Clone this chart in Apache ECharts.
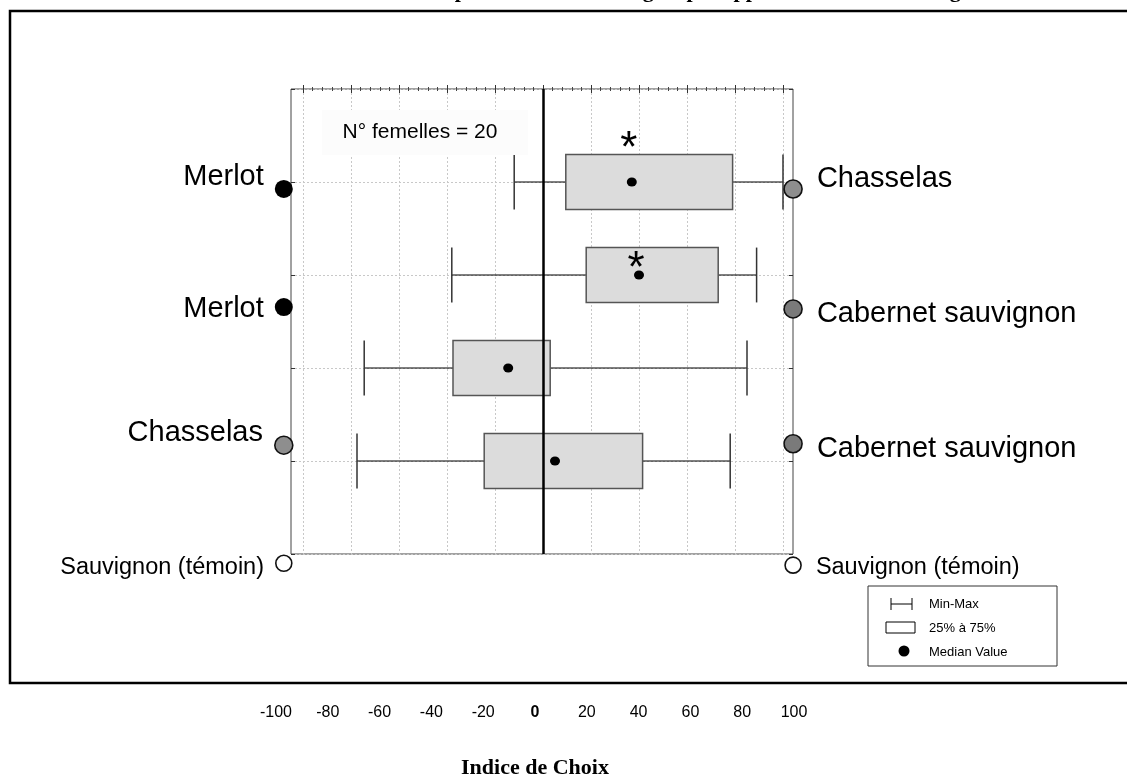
<!DOCTYPE html>
<html>
<head>
<meta charset="utf-8">
<title>Indice de Choix</title>
<script src="https://cdn.jsdelivr.net/npm/echarts@6.0.0/dist/echarts.min.js"></script>
<style>
  html, body { margin: 0; padding: 0; background: #ffffff; }
  #chart { width: 1127px; height: 780px; }
</style>
</head>
<body>
<div id="chart"></div>
<script>
// ---- Data ---------------------------------------------------------------
// One row per tested pair (top to bottom), choice index from -100 to 100.
const rows = [1, 2, 3, 4];
const minVals = [-12, -38, -74.5, -77.5];
const q1Vals = [9.5, 18, -37.5, -24.5];
const medianVals = [37, 40, -14.5, 5];
const q3Vals = [79, 73, 3, 41.5];
const maxVals = [100, 89, 85, 78];
const significant = [true, true, false, false];

// Varieties offered on each side of the choice device.
const leftVarieties = ['Merlot', 'Merlot', 'Chasselas', 'Sauvignon (témoin)'];
const rightVarieties = ['Chasselas', 'Cabernet sauvignon', 'Cabernet sauvignon', 'Sauvignon (témoin)'];

const tickLabels = [-100, -80, -60, -40, -20, 0, 20, 40, 60, 80, 100];
const femaleCount = 20;

const titleText = 'Choix de ponte des femelles : groupes appariés et témoin en cage';
const axisTitle = 'Indice de Choix';
const legendLabels = ['Min-Max', '25% à 75%', 'Median Value'];

// ---- Styling / layout -----------------------------------------------------
const SANS = '"Liberation Sans", Arial, Helvetica, sans-serif';
const SERIF = '"Liberation Serif", "Times New Roman", serif';

const varietyColor = {
  'Merlot': '#000000',
  'Chasselas': '#8e8e8e',
  'Cabernet sauvignon': '#7a7a7a',
  'Sauvignon (témoin)': '#ffffff'
};

// Where the variety markers sit, in axis units (rows / choice index).
const markerLayout = {
  leftX: -108,
  rightX: 104.2,
  leftRows: [1.075, 2.345, 3.83, 5.1],
  rightRows: [1.075, 2.365, 3.815, 5.12],
  leftShift: [-12, 2, -12, 4],
  rightShift: [-10, 5, 5, 2]
};
const asteriskLift = [44, 17, 0, 0];

const chart = echarts.init(document.getElementById('chart'), null, { renderer: 'canvas' });

const boxData = rows.map((r, i) => [r, minVals[i], q1Vals[i], medianVals[i], q3Vals[i], maxVals[i]]);
const medianData = rows.map((r, i) => [medianVals[i], r]);

function renderBox(params, api) {
  const row = api.value(0);
  const pMin = api.coord([api.value(1), row]);
  const pQ1 = api.coord([api.value(2), row]);
  const pQ3 = api.coord([api.value(4), row]);
  const pMax = api.coord([api.value(5), row]);
  const h = api.size([0, 1])[1] * 0.59;
  const y = pMin[1];
  const whisker = { stroke: '#000', lineWidth: 1.2 };
  const cap = { stroke: '#333', lineWidth: 1.5 };
  return {
    type: 'group',
    children: [
      { type: 'line', shape: { x1: pMin[0], y1: y, x2: pQ1[0], y2: y }, style: whisker },
      { type: 'line', shape: { x1: pQ3[0], y1: y, x2: pMax[0], y2: y }, style: whisker },
      { type: 'line', shape: { x1: pMin[0], y1: y - h / 2, x2: pMin[0], y2: y + h / 2 }, style: cap },
      { type: 'line', shape: { x1: pMax[0], y1: y - h / 2, x2: pMax[0], y2: y + h / 2 }, style: cap },
      {
        type: 'rect',
        shape: { x: pQ1[0], y: y - h / 2, width: pQ3[0] - pQ1[0], height: h },
        style: { fill: '#dcdcdc', stroke: '#555', lineWidth: 1.5 }
      }
    ]
  };
}

function renderAsterisk(params, api) {
  const i = params.dataIndex;
  if (!significant[i]) return null;
  const p = api.coord([api.value(0), api.value(1)]);
  return {
    type: 'text',
    x: p[0] - 3,
    y: p[1] - asteriskLift[i] + 12,
    style: {
      text: '*', fontSize: 44, fontFamily: SANS, fill: '#000',
      align: 'center', verticalAlign: 'middle'
    }
  };
}

function markerItems(names, x, ys, shifts, side) {
  return names.map((name, i) => {
    const isControl = name === 'Sauvignon (témoin)';
    return {
      value: [x, ys[i]],
      name: name,
      symbolSize: isControl ? 16 : 18,
      itemStyle: {
        color: varietyColor[name],
        opacity: 1,
        borderColor: '#111',
        borderWidth: name === 'Merlot' ? 0 : 1.6
      },
      label: {
        show: true,
        position: side,
        distance: side === 'left' ? 11 : 14,
        offset: [0, shifts[i]],
        formatter: name,
        fontFamily: SANS,
        fontSize: isControl ? 23.5 : 29,
        color: '#000',
        opacity: 1
      }
    };
  });
}

const tickAxis = {
  type: 'value', min: -100, max: 100, interval: 20,
  axisLine: { show: false },
  axisTick: { show: true, inside: true, length: 4, lineStyle: { color: '#333', width: 1 } },
  minorTick: { show: true, splitNumber: 5, length: 2, lineStyle: { color: '#444', width: 1 } },
  axisLabel: { show: false }
};

const option = {
  backgroundColor: '#ffffff',
  animation: false,
  grid: [
    { left: 291, right: 334, top: 89, bottom: 226, show: true, borderColor: '#444', borderWidth: 1, backgroundColor: '#ffffff' },
    { left: 303, right: 344, top: 89, bottom: 226 },
    { left: 276, right: 333, top: 690, height: 10 }
  ],
  xAxis: [
    { gridIndex: 0, type: 'value', min: 0, max: 1, show: false },
    Object.assign({ gridIndex: 1, position: 'bottom',
      splitLine: { show: true, lineStyle: { type: [2, 2], color: '#c8c8c8', width: 1 } } }, tickAxis),
    Object.assign({ gridIndex: 1, position: 'top', splitLine: { show: false } }, tickAxis),
    {
      gridIndex: 2, type: 'value', min: tickLabels[0], max: tickLabels[tickLabels.length - 1], interval: 20,
      axisLine: { show: false }, axisTick: { show: false }, splitLine: { show: false },
      axisLabel: {
        margin: 8, fontFamily: SANS, fontSize: 16, color: '#000',
        formatter: v => (v === 0 ? '{z|0}' : String(v)),
        rich: { z: { fontFamily: SANS, fontSize: 16, fontWeight: 'bold', color: '#000' } }
      },
      name: axisTitle, nameLocation: 'middle', nameGap: 60,
      nameTextStyle: { fontFamily: SERIF, fontWeight: 'bold', fontSize: 22, color: '#000' }
    }
  ],
  yAxis: [
    {
      gridIndex: 0, type: 'value', min: 0, max: 5, interval: 1, inverse: true, position: 'left',
      axisLine: { show: false }, axisLabel: { show: false },
      axisTick: { show: true, inside: true, length: 4, lineStyle: { color: '#333' } },
      splitLine: { show: true, lineStyle: { type: [2, 2], color: '#c8c8c8', width: 1 } }
    },
    {
      gridIndex: 0, type: 'value', min: 0, max: 5, interval: 1, inverse: true, position: 'right',
      axisLine: { show: false }, axisLabel: { show: false },
      axisTick: { show: true, inside: true, length: 4, lineStyle: { color: '#333' } },
      splitLine: { show: false }
    },
    { gridIndex: 1, type: 'value', min: 0, max: 5, inverse: true, show: false },
    { gridIndex: 2, type: 'value', show: false }
  ],
  series: [
    {
      name: 'boxes', type: 'custom', xAxisIndex: 1, yAxisIndex: 2, z: 2,
      renderItem: renderBox, data: boxData,
      encode: { x: [1, 2, 3, 4, 5], y: 0 }
    },
    {
      name: 'median', type: 'scatter', xAxisIndex: 1, yAxisIndex: 2, z: 4,
      symbol: 'circle', symbolSize: [10, 9],
      itemStyle: { color: '#000', opacity: 1 },
      data: medianData,
      markLine: {
        silent: true, symbol: 'none', label: { show: false },
        lineStyle: { color: '#000', width: 2.5, type: 'solid', opacity: 1 },
        data: [{ xAxis: 0 }]
      }
    },
    {
      name: 'significance', type: 'custom', xAxisIndex: 1, yAxisIndex: 2, z: 5,
      renderItem: renderAsterisk, data: medianData,
      encode: { x: 0, y: 1 }
    },
    {
      name: 'left varieties', type: 'scatter', xAxisIndex: 1, yAxisIndex: 2, z: 6, clip: false,
      symbol: 'circle',
      data: markerItems(leftVarieties, markerLayout.leftX, markerLayout.leftRows, markerLayout.leftShift, 'left')
    },
    {
      name: 'right varieties', type: 'scatter', xAxisIndex: 1, yAxisIndex: 2, z: 6, clip: false,
      symbol: 'circle',
      data: markerItems(rightVarieties, markerLayout.rightX, markerLayout.rightRows, markerLayout.rightShift, 'right')
    }
  ],
  graphic: [
    // heading, sitting against the top edge of the page
    {
      type: 'text', z: 1, silent: true, x: 668, y: -20,
      style: { text: titleText, fontFamily: SERIF, fontWeight: 'bold', fontSize: 22, fill: '#000', align: 'center', verticalAlign: 'top' }
    },
    // outer frame
    {
      type: 'rect', z: 1, silent: true,
      shape: { x: 10, y: 11, width: 1130, height: 672 },
      style: { fill: 'none', stroke: '#000', lineWidth: 2.5 }
    },
    // sample size note
    {
      type: 'rect', z: 50, silent: true,
      shape: { x: 322, y: 110, width: 206, height: 45 },
      style: { fill: '#fcfcfc', stroke: 'none' }
    },
    {
      type: 'text', z: 51, silent: true, x: 420, y: 132,
      style: { text: 'N° femelles = ' + femaleCount, fontFamily: SANS, fontSize: 21, fill: '#000', align: 'center', verticalAlign: 'middle' }
    },
    // key
    {
      type: 'group', z: 60, silent: true,
      children: [
        { type: 'rect', shape: { x: 868, y: 586, width: 189, height: 80 }, style: { fill: '#fff', stroke: '#333', lineWidth: 1 } },
        { type: 'line', shape: { x1: 891, y1: 604, x2: 912, y2: 604 }, style: { stroke: '#000', lineWidth: 1 } },
        { type: 'line', shape: { x1: 891, y1: 598, x2: 891, y2: 610 }, style: { stroke: '#000', lineWidth: 1 } },
        { type: 'line', shape: { x1: 912, y1: 598, x2: 912, y2: 610 }, style: { stroke: '#000', lineWidth: 1 } },
        { type: 'text', x: 929, y: 604, style: { text: legendLabels[0], fontFamily: SANS, fontSize: 13, fill: '#000', verticalAlign: 'middle' } },
        { type: 'rect', shape: { x: 886, y: 622, width: 29, height: 11 }, style: { fill: '#fff', stroke: '#000', lineWidth: 1 } },
        { type: 'text', x: 929, y: 628, style: { text: legendLabels[1], fontFamily: SANS, fontSize: 13, fill: '#000', verticalAlign: 'middle' } },
        { type: 'circle', shape: { cx: 904, cy: 651, r: 5.5 }, style: { fill: '#000' } },
        { type: 'text', x: 929, y: 652, style: { text: legendLabels[2], fontFamily: SANS, fontSize: 13, fill: '#000', verticalAlign: 'middle' } }
      ]
    }
  ]
};

chart.setOption(option);
</script>
</body>
</html>
